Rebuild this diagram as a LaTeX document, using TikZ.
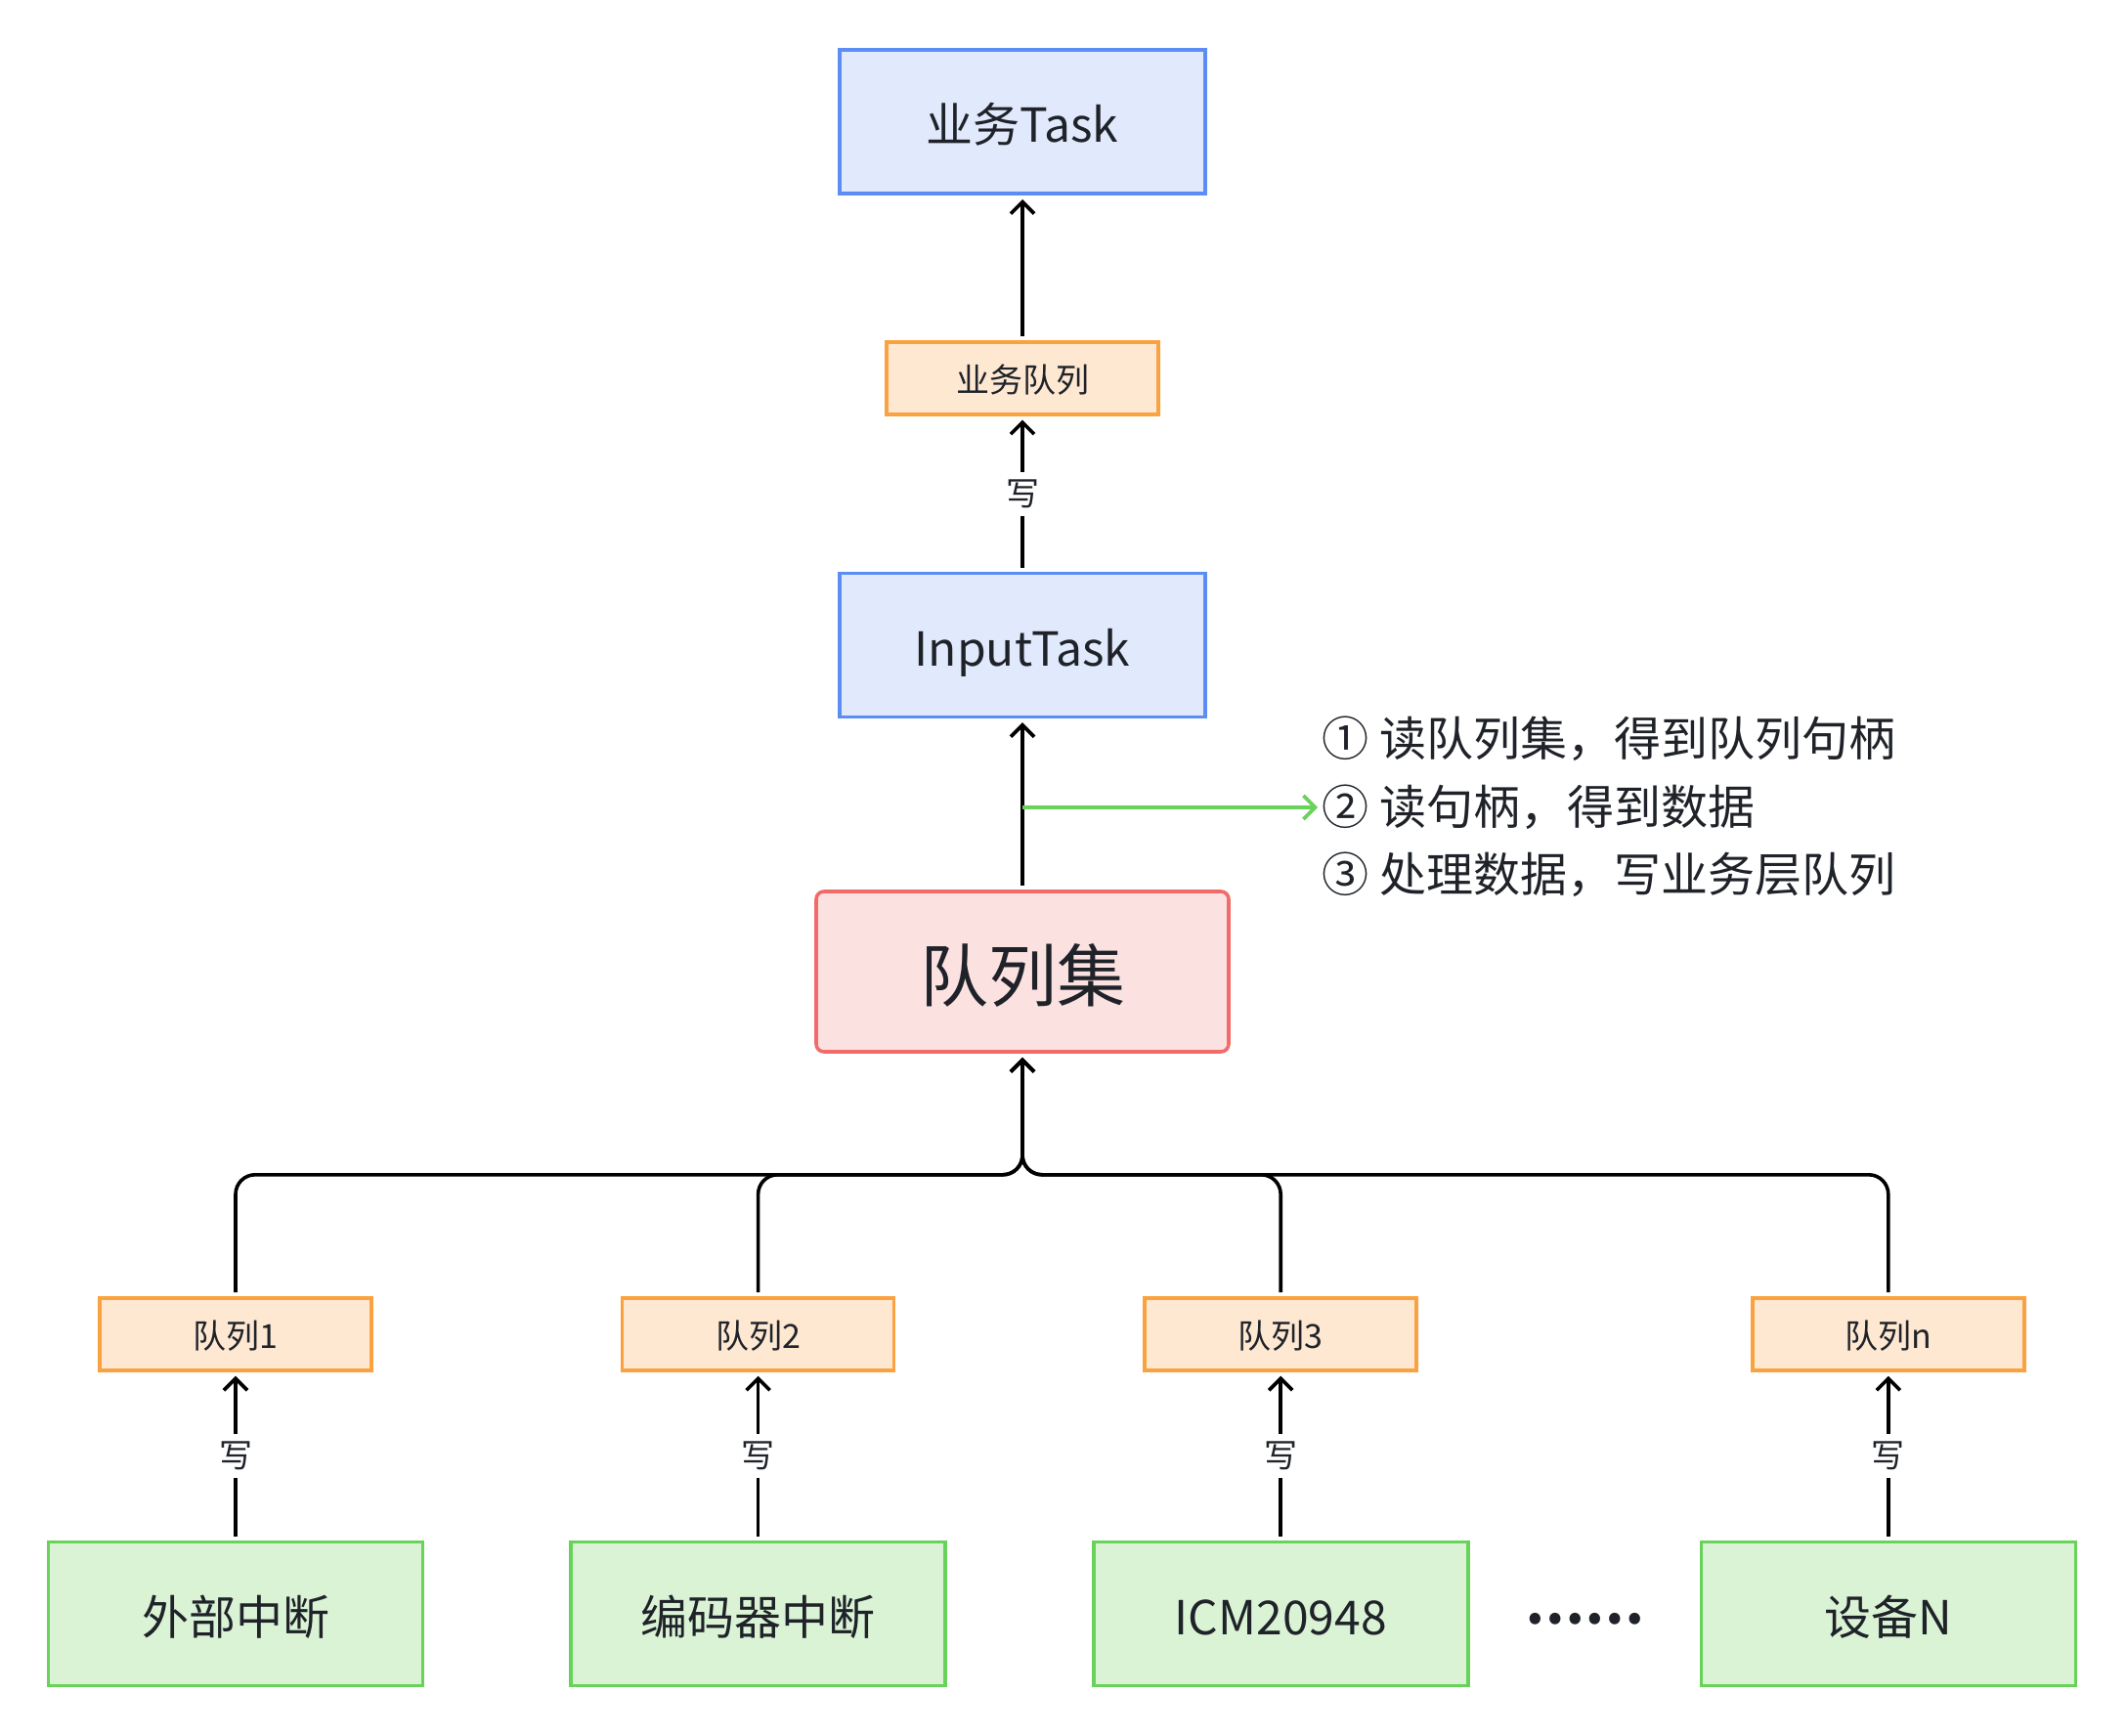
\documentclass[tikz,border=0pt]{standalone}
\usepackage{fontspec}
\setmainfont{Noto Sans CJK SC}
\usepackage{tikz}
\usetikzlibrary{arrows.meta, positioning, calc}

\definecolor{ink}{HTML}{1F2329}
\definecolor{taskfill}{HTML}{E1E9FD}
\definecolor{taskline}{HTML}{5B8DF5}
\definecolor{queuefill}{HTML}{FEE8D2}
\definecolor{queueline}{HTML}{FBA240}
\definecolor{setfill}{HTML}{FCE1E1}
\definecolor{setline}{HTML}{F26B6B}
\definecolor{srcfill}{HTML}{DAF3D5}
\definecolor{srcline}{HTML}{68D25A}

\begin{document}
\begin{tikzpicture}[
    node distance=80pt,
    boxtext/.style={text=ink, text height=1.0*#1, text depth=0.12*#1, font=\fontsize{#1}{#1}\selectfont},
    taskbox/.style={rectangle, minimum width=187pt, minimum height=73.5pt, text centered, draw=taskline, fill=taskfill, line width=1.8pt, boxtext=24pt},
    queuebox/.style={rectangle, minimum width=139pt, minimum height=37pt, text centered, draw=queueline, fill=queuefill, line width=1.8pt, boxtext=17pt},
    setbox/.style={rectangle, rounded corners=4pt, minimum width=211pt, minimum height=82pt, text centered, draw=setline, fill=setfill, line width=1.8pt, boxtext=35pt},
    sourcebox/.style={rectangle, minimum width=191.5pt, minimum height=73.5pt, text centered, draw=srcline, fill=srcfill, line width=1.8pt, boxtext=24pt},
    dotsnode/.style={text=ink, yshift=-2.7pt, font=\fontsize{27pt}{27pt}\selectfont\bfseries},
    note/.style={anchor=west, inner sep=0pt, text=ink, font=\fontsize{24pt}{28pt}\selectfont},
    wlabel/.style={fill=white, inner sep=4pt, text=ink, font=\fontsize{17pt}{20pt}\selectfont},
    arrow/.style={line width=1.8pt, ->, >={Straight Barb[length=6pt, width=12pt]}, shorten >=2pt, shorten <=2pt},
    readarrow/.style={arrow, draw=srcline}
]
\useasboundingbox (0,0) rectangle (1088pt,-888pt);

\node (setq) [setbox] at (523pt,-497pt) {队列集};
\node (input) [taskbox, above=87.5pt of setq] {InputTask};
\node (ywq) [queuebox, above=79.5pt of input] {业务队列};
\node (task) [taskbox, above=74pt of ywq] {业务Task};

\node (src1) [sourcebox] at (120.5pt,-825.5pt) {外部中断};
\node (src2) [sourcebox, right=74pt of src1] {编码器中断};
\node (src3) [sourcebox, right=74pt of src2] {ICM20948};
\node (srcn) [sourcebox, right=117.5pt of src3] {设备N};
\node (dots) [dotsnode] at ($(src3.east)!0.5!(srcn.west)$) {……};

\node (q1) [queuebox, above=86pt of src1] {队列1};
\node (q2) [queuebox, above=86pt of src2] {队列2};
\node (q3) [queuebox, above=86pt of src3] {队列3};
\node (qn) [queuebox, above=86pt of srcn] {队列n};

\node (n1) [note] at (676pt,-378pt) {① 读队列集，得到队列句柄};
\node (n2) [note] at (676pt,-413pt) {② 读句柄，得到数据};
\node (n3) [note] at (676pt,-447.5pt) {③ 处理数据，写业务层队列};

\coordinate (bus) at ($(setq.south)+(0,-62pt)$);
\coordinate (tap) at (setq.north |- n2.west);

\draw [arrow] (ywq) -- (task);
\draw [arrow] (input) -- node[wlabel] {写} (ywq);
\draw [arrow] (setq) -- (input);
\draw [readarrow, shorten <=0pt] (tap) -- (n2.west);

\foreach \q in {q1,q2,q3,qn}
    \draw [arrow, rounded corners=10pt] (\q.north) |- (bus) -- (setq.south);

\foreach \s/\q in {src1/q1,src2/q2,src3/q3,srcn/qn}
    \draw [arrow] (\s) -- node[wlabel] {写} (\q);

\end{tikzpicture}
\end{document}
